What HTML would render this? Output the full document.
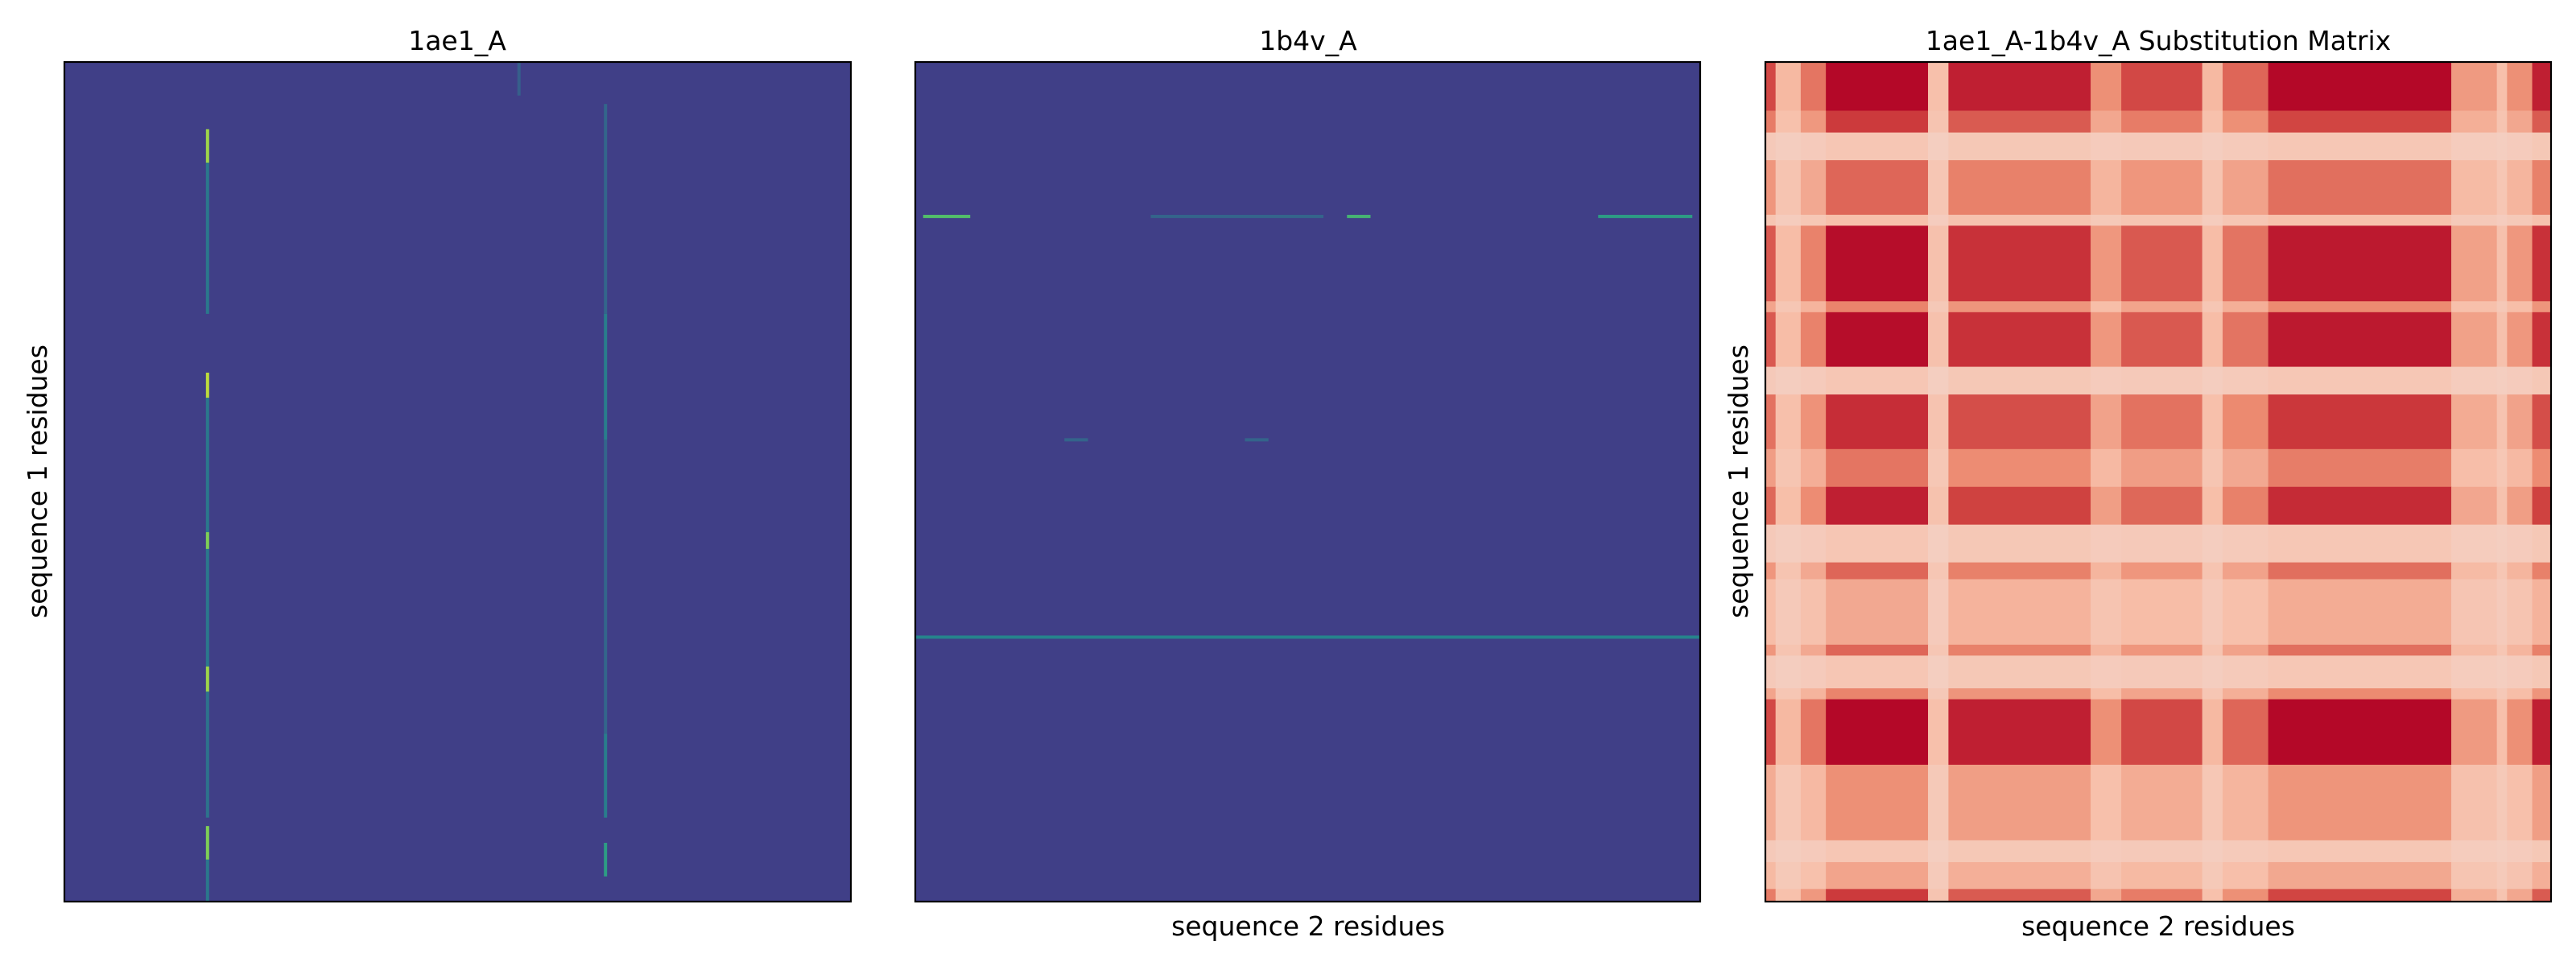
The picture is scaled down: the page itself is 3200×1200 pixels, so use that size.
<!DOCTYPE html>
<html><head><meta charset="utf-8">
<style>
html,body{margin:0;padding:0;background:#fff;width:3200px;height:1200px;overflow:hidden}
svg text{font-family:"DejaVu Sans","Liberation Sans",sans-serif;font-size:33px;fill:#000}
</style></head>
<body>
<svg id="fig" width="3200" height="1200" viewBox="0 0 3200 1200" xmlns="http://www.w3.org/2000/svg">
  <g id="p1"></g>
  <g id="p2"></g>
  <g id="p3"></g>
  <text x="568" y="62" text-anchor="middle">1ae1_A</text>
  <text x="1625" y="62" text-anchor="middle">1b4v_A</text>
  <text x="2681" y="62" text-anchor="middle">1ae1_A-1b4v_A Substitution Matrix</text>
  <text transform="translate(58,598) rotate(-90)" text-anchor="middle">sequence 1 residues</text>
  <text transform="translate(2171,598) rotate(-90)" text-anchor="middle">sequence 1 residues</text>
  <text x="1625" y="1162" text-anchor="middle">sequence 2 residues</text>
  <text x="2681" y="1162" text-anchor="middle">sequence 2 residues</text>
</svg>
<script>
// Panel 1 (1ae1_A): vertical highlight segments [xFrac, yStart, yEnd, value 0..1]
const p1Lines = [
  [0.182,0.08,0.12,0.85],[0.182,0.12,0.30,0.4],[0.182,0.37,0.40,0.9],[0.182,0.40,0.56,0.4],
  [0.182,0.56,0.58,0.8],[0.182,0.58,0.72,0.4],[0.182,0.72,0.75,0.85],[0.182,0.75,0.90,0.38],
  [0.182,0.91,0.95,0.8],[0.182,0.95,1.0,0.4],
  [0.688,0.05,0.30,0.33],[0.688,0.30,0.45,0.42],[0.688,0.45,0.80,0.33],[0.688,0.80,0.90,0.42],[0.688,0.93,0.97,0.55],
  [0.578,0.0,0.04,0.3]
];
// Panel 2 (1b4v_A): horizontal highlight segments [yFrac, xStart, xEnd, value]
const p2Lines = [
  [0.184,0.01,0.07,0.7],[0.184,0.55,0.58,0.65],[0.184,0.87,0.99,0.55],[0.184,0.30,0.52,0.32],
  [0.685,0.0,1.0,0.45],[0.45,0.19,0.22,0.32],[0.45,0.42,0.45,0.32]
];
// Panel 3 row profile [yStart, yEnd, value] and column profile [xStart, xEnd, value]
const rowProfile = [
  [0,0.058,1.0],[0.058,0.084,0.75],[0.084,0.117,0.12],[0.117,0.182,0.6],[0.182,0.195,0.2],
  [0.195,0.285,0.92],[0.285,0.298,0.5],[0.298,0.363,0.92],[0.363,0.396,0.12],[0.396,0.461,0.8],
  [0.461,0.506,0.55],[0.506,0.551,0.85],[0.551,0.596,0.12],[0.596,0.616,0.6],[0.616,0.694,0.33],
  [0.694,0.707,0.6],[0.707,0.746,0.12],[0.746,0.759,0.5],[0.759,0.837,1.0],[0.837,0.927,0.45],
  [0.927,0.953,0.12],[0.953,0.985,0.35],[0.985,1.0,0.75]
];
const colProfile = [
  [0,0.013,0.7],[0.013,0.045,0.25],[0.045,0.077,0.55],[0.077,0.207,1.0],[0.207,0.233,0.2],
  [0.233,0.414,0.85],[0.414,0.453,0.45],[0.453,0.556,0.7],[0.556,0.582,0.25],[0.582,0.64,0.6],
  [0.64,0.873,0.95],[0.873,0.931,0.4],[0.931,0.944,0.2],[0.944,0.976,0.45],[0.976,1.0,0.85]
];

const NS='http://www.w3.org/2000/svg';
const panels = {p1:[80,77,977,1043],p2:[1137,77,975,1043],p3:[2193,77,976,1043]};
function lerp(a,b,t){return a+(b-a)*t}
function ramp(stops,v){
  v=Math.max(0,Math.min(1,v));
  for(let i=1;i<stops.length;i++){ if(v<=stops[i][0]){const a=stops[i-1],b=stops[i];const t=(v-a[0])/(b[0]-a[0]);
    return 'rgb('+[1,2,3].map(k=>Math.round(lerp(a[k],b[k],t))).join(',')+')';}}
  const l=stops[stops.length-1];return 'rgb('+l[1]+','+l[2]+','+l[3]+')';
}
const viridis=[[0,68,1,84],[0.25,59,82,139],[0.5,33,145,140],[0.75,94,201,98],[1,253,231,37]];
const reds=[[0,243,214,204],[0.3,247,190,168],[0.55,236,138,112],[0.8,206,62,62],[1,180,8,40]];
function xs(p,f){return panels[p][0]+f*panels[p][2]}
function ys(p,f){return panels[p][1]+f*panels[p][3]}
function rect(g,x,y,w,h,fill){const r=document.createElementNS(NS,'rect');
  r.setAttribute('x',x);r.setAttribute('y',y);r.setAttribute('width',w);r.setAttribute('height',h);r.setAttribute('fill',fill);g.appendChild(r);return r;}

['p1','p2'].forEach(p=>{
  const g=document.getElementById(p);
  const b=rect(g,panels[p][0],panels[p][1],panels[p][2],panels[p][3],'#403f87');
  
  
});
const g1=document.getElementById('p1');
p1Lines.forEach(d=>{
  const r=rect(g1,xs('p1',d[0])-2,ys('p1',d[1]),4,(d[2]-d[1])*panels.p1[3],ramp(viridis,d[3]));
  
  
});
const g2=document.getElementById('p2');
p2Lines.forEach(d=>{
  const r=rect(g2,xs('p2',d[1]),ys('p2',d[0])-2,(d[2]-d[1])*panels.p2[2],4,ramp(viridis,d[3]));
  
  
});
const g3=document.getElementById('p3');
rowProfile.forEach(rw=>{
  colProfile.forEach(c=>{
    const v=Math.min(1,0.08+rw[2]*c[2]*0.98);
    const x0=xs('p3',c[0]),x1=xs('p3',c[1]),y0=ys('p3',rw[0]),y1=ys('p3',rw[1]);
    const r=rect(g3,x0,y0,x1-x0+0.5,y1-y0+0.5,ramp(reds,v));
    
    
  });
});
Object.keys(panels).forEach(p=>{
  const g=document.getElementById(p);
  const r=rect(g,panels[p][0],panels[p][1],panels[p][2],panels[p][3],'none');
  r.setAttribute('stroke','#000');r.setAttribute('stroke-width','2.2');
  
  
});
</script>
</body></html>
